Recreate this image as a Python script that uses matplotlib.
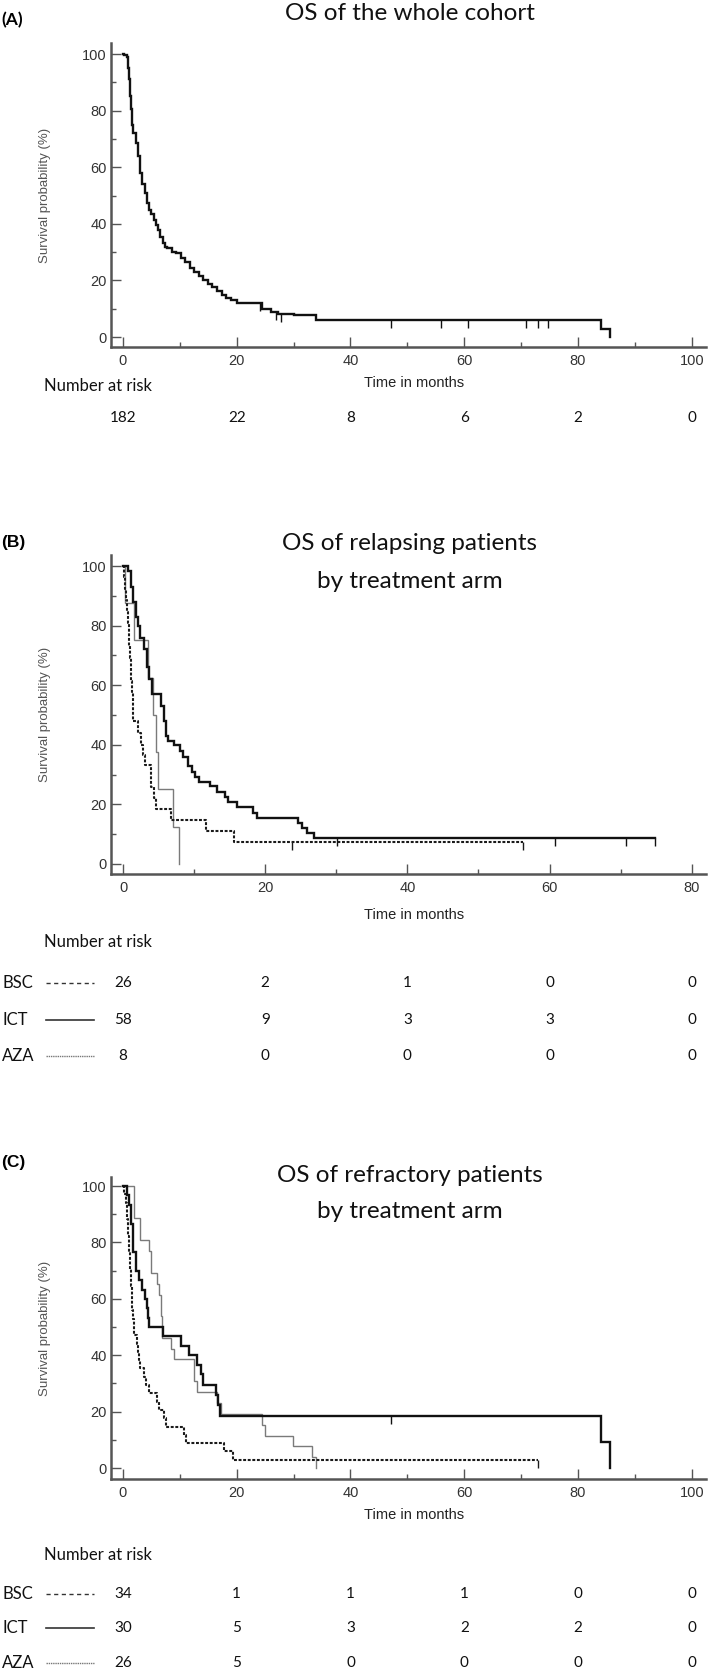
import numpy as np
import matplotlib.pyplot as plt
from matplotlib.lines import Line2D
from matplotlib.transforms import blended_transform_factory

# ---- data ----
# (A) whole cohort
a_t = [0, 0.24, 0.64, 0.87, 1.03, 1.27, 1.43, 1.67, 1.83, 2.23, 2.62, 3.02, 3.42, 3.82, 4.21,
       4.61, 5.01, 5.41, 5.80, 6.20, 6.60, 7.0, 7.39, 7.79, 8.59, 9.38, 10.17, 10.97, 11.76,
       12.56, 13.35, 14.15, 14.94, 15.74, 16.53, 17.33, 18.12, 18.92, 20.11, 24.5, 26.1, 27.3,
       30.0, 34.0, 84.1, 85.7]
a_s = [100, 99.5, 98.8, 95, 91.1, 85, 80.5, 75, 72.2, 68.6, 63.9, 58.0, 54, 50.9, 47.5,
       45.0, 43.5, 41.4, 39.5, 37.9, 35.5, 33.1, 32, 31.4, 30.2, 29.6, 28, 26.6, 24.5,
       23.1, 21.5, 20.1, 18.9, 17.8, 16.2, 14.8, 13.8, 13.0, 12.1, 10.1, 8.9, 8.3,
       7.7, 5.9, 3.0, 0]
a_cens = [24.1, 26.9, 27.7, 47.1, 55.9, 60.7, 70.8, 73.0, 74.7]
a_risk = [182, 22, 8, 6, 2, 0]

# (B) relapsing patients
b_ict_t = [0, 0.7, 1.14, 1.46, 1.78, 2.1, 2.42, 2.93, 3.37, 3.69, 4.13, 5.28, 5.72, 6.1, 6.36,
           7.19, 8.01, 8.46, 9.09, 9.73, 10.17, 10.68, 12.27, 13.23, 14.37, 14.82, 16.09,
           18.31, 18.82, 24.67, 25.18, 25.82, 26.9, 74.8]
b_ict_s = [100, 98.3, 93, 88, 83, 80, 76, 72, 66, 62, 57, 53, 48, 43, 41.4,
           40, 38, 36, 33, 31, 29, 27.6, 26, 24, 22.4, 20.7, 19,
           17, 15.5, 13.8, 12, 10.3, 8.6, 8.6]
b_ict_cens = [30.1, 60.8, 70.8, 74.8]
b_bsc_t = [0, 0.19, 0.32, 0.45, 0.57, 0.70, 0.80, 0.89, 0.99, 1.08, 1.18, 1.27, 1.37, 1.46,
           2.1, 2.54, 2.8, 3.05, 3.88, 4.32, 4.64, 6.74, 11.64, 15.64, 56.2]
b_bsc_s = [100, 96.2, 92.3, 88.5, 84.6, 80.8, 76.9, 73.1, 69.2, 65.4, 61.5, 57.7, 53.8, 48,
           44, 40, 36.5, 33.3, 25.9, 22.2, 18.5, 14.8, 11.1, 7.4, 7.4]
b_bsc_cens = [23.7, 56.2]
b_aza_t = [0, 0.32, 1.59, 3.56, 4.2, 4.64, 4.96, 7.06, 7.82]
b_aza_s = [100, 87.5, 75, 62.5, 50, 37.5, 25, 12.5, 0]
b_risk = {'BSC': [26, 2, 1, 0, 0], 'ICT': [58, 9, 3, 3, 0], 'AZA': [8, 0, 0, 0, 0]}

# (C) refractory patients
c_ict_t = [0, 0.64, 1.03, 1.43, 1.83, 2.23, 2.78, 3.42, 3.82, 4.21, 4.45, 4.61, 7.0, 10.17,
           11.6, 13.1, 13.75, 13.99, 16.3, 16.7, 17.1, 84.1, 85.7]
c_ict_s = [100, 96.7, 93.3, 86.7, 76.7, 70, 66.7, 63.3, 60, 56.7, 53.3, 50, 46.7, 43.3,
           40, 36.7, 33.3, 29.3, 25.9, 22.2, 18.3, 9.15, 0]
c_ict_cens = [47.1]
c_aza_t = [0, 1.9, 3.02, 4.61, 5.0, 6.04, 6.36, 6.68, 6.84, 8.43, 8.98, 12.56, 12.96, 16.5,
           17.3, 24.5, 25.0, 29.9, 33.2, 34.0]
c_aza_s = [100, 88.5, 80.8, 76.9, 69.2, 65.4, 61.5, 53.8, 46.2, 42.3, 38.5, 30.8, 26.9, 23.1,
           19.2, 15.4, 11.5, 7.7, 3.85, 0]
c_bsc_t = [0, 0.24, 0.48, 0.64, 0.79, 0.87, 0.95, 1.03, 1.11, 1.19, 1.27, 1.35, 1.43, 1.51,
           1.59, 1.67, 1.83, 1.99, 2.46, 2.62, 2.86, 3.02, 3.66, 3.97, 4.61, 6.04, 6.36, 7.23,
           7.63, 10.81, 11.13, 17.73, 19.3, 73.0]
c_bsc_s = [100, 97.1, 94.1, 91.2, 88.2, 85.3, 82.4, 79.4, 76.5, 73.5, 70.6, 67.6, 64.7, 61.8,
           58.8, 55.9, 52.9, 47.1, 44.1, 41.2, 38.2, 35.3, 32.4, 29.4, 26.5, 23.5, 20.6, 17.6,
           14.7, 11.8, 8.8, 5.9, 2.9, 2.9]
c_bsc_cens = [73.0]
c_risk = {'BSC': [34, 1, 1, 1, 0, 0], 'ICT': [30, 5, 3, 2, 2, 0], 'AZA': [26, 5, 0, 0, 0, 0]}

arms = ['BSC', 'ICT', 'AZA']

# ---- styles ----
curve_style = {
    'ICT': dict(color='#111111', lw=1.7, ls='-'),
    'BSC': dict(color='#1a1a1a', lw=1.5, ls=(0, (1.4, 0.8))),
    'AZA': dict(color='#7a7a7a', lw=1.0, ls='-'),
}
sample_style = {
    'BSC': dict(color='#333333', lw=1.0, ls=(0, (3, 2.5))),
    'ICT': dict(color='#333333', lw=1.2, ls='-'),
    'AZA': dict(color='#777777', lw=1.0, ls=(0, (1, 0.6))),
}

W, H = 709, 1673
fig = plt.figure(figsize=(W / 100, H / 100), dpi=100)
SANS = 'Liberation Sans'
CAL = 'Lato'


def fx(px):
    return px / W


def fy(py):
    return 1 - py / H


def make_axes(top, bottom, xlim, ylim, xmax):
    ax = fig.add_axes([fx(111), fy(bottom), (706 - 111) / W, (bottom - top) / H])
    ax.set_xlim(xlim)
    ax.set_ylim(ylim)
    for side in ['top', 'right']:
        ax.spines[side].set_visible(False)
    for side in ['left', 'bottom']:
        ax.spines[side].set_color('#555555')
        ax.spines[side].set_linewidth(1.8)
    ax.set_xticks(range(0, xmax + 1, 20))
    ax.set_xticks(range(10, xmax, 20), minor=True)
    ax.set_yticks(range(0, 101, 20))
    ax.set_yticks(range(10, 100, 20), minor=True)
    ax.tick_params(which='major', direction='in', length=7.5, width=1.0, color='#555555',
                   labelsize=10.5, labelcolor='#333333', pad=5)
    ax.tick_params(axis='y', which='major', pad=3)
    ax.tick_params(which='minor', direction='in', length=3.5, width=1.0, color='#555555')
    for lab in ax.get_xticklabels() + ax.get_yticklabels():
        lab.set_fontfamily(SANS)
    ax.set_ylabel('Survival probability (%)', fontsize=9.5, color='#555555', family=SANS)
    ax.yaxis.set_label_coords((51 - 111) / 595, 0.5)
    ax.patch.set_alpha(0)
    return ax


def km(ax, t, s, style, cens=()):
    ax.step(t, s, where='post', solid_joinstyle='miter', **style)
    if len(cens):
        idx = np.searchsorted(t, cens, side='right') - 1
        ax.plot(cens, np.array(s)[idx], ls='none', marker=3, ms=6, mew=1.0,
                color=style['color'])


def titles(label, lines, y_label, y_lines, label_font):
    fig.text(fx(1), fy(y_label), label, fontsize=12.5, fontweight='bold',
             family=label_font, ha='left', va='center')
    for txt, y in zip(lines, y_lines):
        fig.text(fx(410), fy(y), txt, fontsize=17.5, family=CAL, ha='center', va='center',
                 color='#111111')


def time_label(y):
    fig.text(fx(414), fy(y), 'Time in months', fontsize=10.5, family=SANS,
             ha='center', va='center', color='#222222')


def risk_table(ax, ticks, y_nar, rows, y_rows, risk):
    fig.text(fx(44), fy(y_nar), 'Number at risk', fontsize=12, family=CAL,
             ha='left', va='center', color='#111111')
    tr = blended_transform_factory(ax.transData, fig.transFigure)
    for arm, y in zip(rows, y_rows):
        if arm is not None:
            fig.text(fx(2), fy(y), arm, fontsize=12, family=CAL, ha='left', va='center',
                     color='#111111')
            fig.add_artist(Line2D([fx(46), fx(94)], [fy(y), fy(y)], **sample_style[arm]))
            counts = risk[arm]
        else:
            counts = risk
        for t, c in zip(ticks, counts):
            fig.text(t, fy(y), str(c), transform=tr, fontsize=11, family=CAL,
                     ha='center', va='center', color='#111111')


# ---- panel A ----
axA = make_axes(43, 347, (-2.1, 102.5), (-3.5, 103.9), 100)
km(axA, a_t, a_s, dict(color='#111111', lw=1.7, ls='-'), a_cens)
titles('(A)', ['OS of the whole cohort'], 20, [14], CAL)
time_label(383)
risk_table(axA, range(0, 101, 20), 386, [None], [418], a_risk)

# ---- panel B ----
axB = make_axes(555, 874, (-1.69, 82.0), (-3.4, 103.7), 80)
km(axB, b_aza_t, b_aza_s, curve_style['AZA'])
km(axB, b_bsc_t, b_bsc_s, curve_style['BSC'], b_bsc_cens)
km(axB, b_ict_t, b_ict_s, curve_style['ICT'], b_ict_cens)
titles('(B)', ['OS of relapsing patients', 'by treatment arm'], 542, [543, 582], SANS)
time_label(915)
risk_table(axB, range(0, 81, 20), 942, arms, [983, 1020, 1056], b_risk)

# ---- panel C ----
axC = make_axes(1177, 1479, (-2.1, 102.5), (-3.9, 103.2), 100)
km(axC, c_aza_t, c_aza_s, curve_style['AZA'])
km(axC, c_bsc_t, c_bsc_s, curve_style['BSC'], c_bsc_cens)
km(axC, c_ict_t, c_ict_s, curve_style['ICT'], c_ict_cens)
titles('(C)', ['OS of refractory patients', 'by treatment arm'], 1163, [1175, 1212], SANS)
time_label(1515)
risk_table(axC, range(0, 101, 20), 1555, arms, [1594, 1628, 1663], c_risk)

fig.savefig('out.png', dpi=100, facecolor='white')
